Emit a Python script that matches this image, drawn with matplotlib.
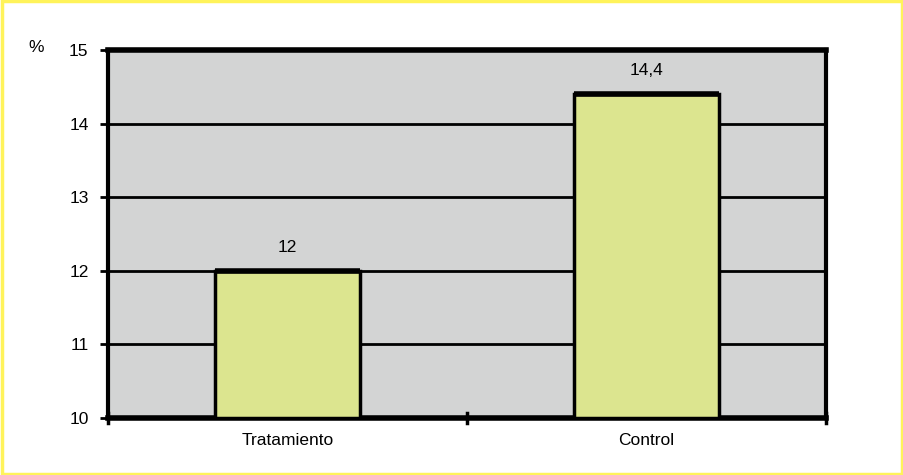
import matplotlib.pyplot as plt
from matplotlib.patches import Rectangle

# datos
categorias = ["Tratamiento", "Control"]
valores = [12, 14.4]
etiquetas = ["12", "14,4"]
yticks = [10, 11, 12, 13, 14, 15]

plt.rcParams['font.family'] = ['Liberation Sans', 'DejaVu Sans']

fig = plt.figure(figsize=(9.04, 4.75), dpi=100)
ax = fig.add_axes([108 / 904, 1 - 418 / 475, (826 - 108) / 904, (418 - 50) / 475])
ax.set_facecolor('#d3d4d4')

x = list(range(len(categorias)))
ax.bar(x, [v - 10 for v in valores], bottom=10, width=0.405, color='#dce58f',
       edgecolor='black', linewidth=2.5, zorder=3)
# borde superior mas grueso
for xi, v in zip(x, valores):
    ax.plot([xi - 0.2025, xi + 0.2025], [v, v], color='black', lw=4, zorder=4,
            solid_capstyle='butt')

for xi, v, t in zip(x, valores, etiquetas):
    ax.text(xi, v + 0.22, t, ha='center', va='bottom', fontsize=12.5)

ax.set_xlim(-0.5, 1.5)
ax.set_ylim(10, 15)
ax.set_yticks(yticks)
ax.set_yticklabels([str(t) for t in yticks], fontsize=12.5)
ax.set_xticks(x)
ax.set_xticklabels(categorias, fontsize=12.5)
ax.tick_params(axis='x', length=0, pad=11)
ax.tick_params(axis='y', length=6, width=2, pad=8)
for xb in [-0.5, 0.5, 1.5]:
    ax.plot([xb, xb], [9.93, 10.07], color='black', lw=2.5, clip_on=False, zorder=5)

ax.grid(axis='y', color='black', lw=2, zorder=1)
for s in ['top', 'bottom']:
    ax.spines[s].set_linewidth(4)
for s in ['left', 'right']:
    ax.spines[s].set_linewidth(3)

fig.text(28 / 904, 1 - 48 / 475, "%", fontsize=12.5, ha='left', va='center')

# marco amarillo
fig.patches.append(Rectangle((0.002, 0.003), 0.996, 0.994, transform=fig.transFigure,
                             fill=False, edgecolor='#fff35a', lw=2.5))

fig.savefig("out.png", dpi=100)
